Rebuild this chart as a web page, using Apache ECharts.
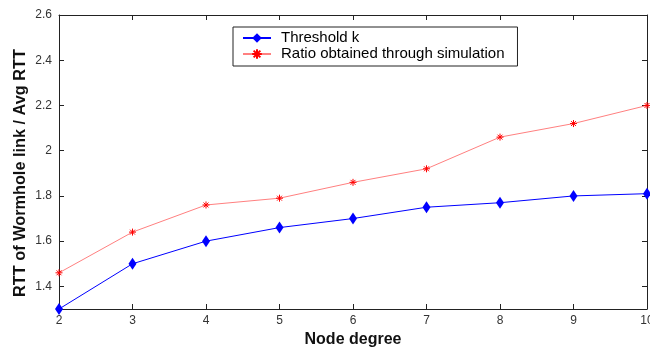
<!DOCTYPE html>
<html>
<head>
<meta charset="utf-8">
<script src="https://cdn.jsdelivr.net/npm/echarts@6/dist/echarts.min.js"></script>
<style>html,body{margin:0;padding:0;background:#fff}#c{width:650px;height:356px}</style>
</head>
<body>
<div id="c"></div>
<script>
const nodeDegrees = [2, 3, 4, 5, 6, 7, 8, 9, 10];
const thresholdK = [1.30, 1.50, 1.60, 1.66, 1.70, 1.75, 1.77, 1.80, 1.81];
const simRatio = [1.46, 1.64, 1.76, 1.79, 1.86, 1.92, 2.06, 2.12, 2.20];
const yTicks = [1.4, 1.6, 1.8, 2.0, 2.2, 2.4, 2.6];
const xTicks = [2, 3, 4, 5, 6, 7, 8, 9, 10];
const seriesNames = ['Threshold k', 'Ratio obtained through simulation'];
const xTitle = 'Node degree';
const yTitle = 'RTT of Wormhole link / Avg RTT';

const font = '"Liberation Sans", Arial, sans-serif';
const axisCol = '#222';
const chart = echarts.init(document.getElementById('c'));
const xBase = {
  type: 'value', min: 2, max: 10, interval: 1,
  axisLine: {show: true, onZero: false, lineStyle: {color: axisCol, width: 1}},
  axisTick: {show: true, inside: true, length: 5, lineStyle: {color: axisCol}},
  splitLine: {show: false}
};
const yBase = {
  type: 'value', min: 1.3, max: 2.6,
  axisLine: {show: true, onZero: false, lineStyle: {color: axisCol, width: 1}},
  axisTick: {show: true, inside: true, length: 5, customValues: yTicks, lineStyle: {color: axisCol}},
  splitLine: {show: false}
};
chart.setOption({
  animation: false,
  backgroundColor: '#fff',
  grid: {left: 59, right: 3, top: 15, bottom: 47, containLabel: false, outerBoundsMode: 'none'},
  graphic: [{
    type: 'text', x: 21, y: 173, rotation: Math.PI / 2,
    style: {text: yTitle, fontFamily: font, fontSize: 16.3, fontWeight: 'bold', fill: '#111',
      align: 'center', verticalAlign: 'middle'}
  }],
  legend: {
    data: seriesNames,
    orient: 'vertical',
    left: 233, top: 27,
    backgroundColor: '#fff',
    borderColor: '#222', borderWidth: 1,
    padding: [3, 13, 4, 9],
    itemGap: 0,
    itemWidth: 28, itemHeight: 12,
    textStyle: {fontFamily: font, fontSize: 15, color: '#000', lineHeight: 16, padding: [0, 0, 0, 5]}
  },
  xAxis: [
    Object.assign({}, xBase, {
      position: 'bottom',
      name: xTitle, nameLocation: 'middle', nameGap: 22,
      nameTextStyle: {fontFamily: font, fontSize: 16, fontWeight: 'bold', color: '#111'},
      axisLabel: {show: true, customValues: xTicks, fontFamily: font, fontSize: 12, color: '#333', margin: 6}
    }),
    Object.assign({}, xBase, {position: 'top', axisLabel: {show: false}})
  ],
  yAxis: [
    Object.assign({}, yBase, {
      position: 'left',
      axisLabel: {show: true, customValues: yTicks, fontFamily: font, fontSize: 12, color: '#333', margin: 7,
        formatter: v => (Math.round(v * 10) / 10).toString()}
    }),
    Object.assign({}, yBase, {position: 'right', axisLabel: {show: false}})
  ],
  series: [
    {
      name: seriesNames[0], type: 'line', xAxisIndex: 0, yAxisIndex: 0,
      data: nodeDegrees.map((x, i) => [x, thresholdK[i]]),
      symbol: 'diamond', symbolSize: [8, 12],
      lineStyle: {color: '#0000ff', width: 1},
      itemStyle: {color: '#0000ff'},
      clip: false
    },
    {
      name: seriesNames[1], type: 'line', xAxisIndex: 0, yAxisIndex: 0,
      data: nodeDegrees.map((x, i) => [x, simRatio[i]]),
      symbol: 'path://M5,0L5,10M0,5L10,5M1.5,1.5L8.5,8.5M8.5,1.5L1.5,8.5',
      symbolSize: 7,
      lineStyle: {color: '#ff8080', width: 1},
      itemStyle: {color: '#ff0000', borderColor: '#ff0000', borderWidth: 1},
      clip: false
    }
  ]
});
</script>
</body>
</html>
